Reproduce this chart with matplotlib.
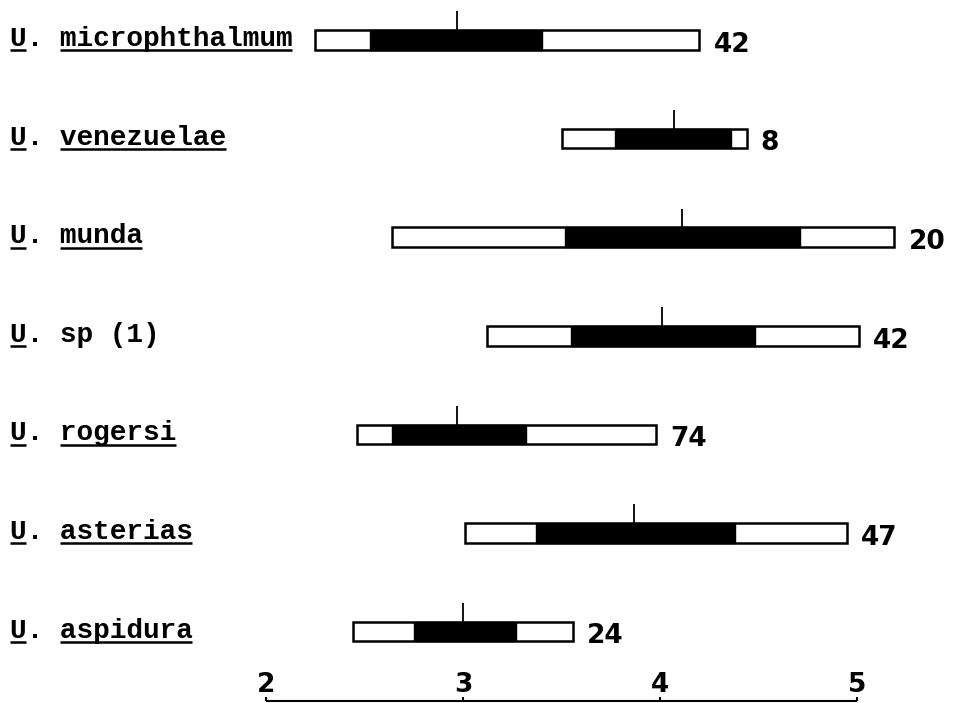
import matplotlib.pyplot as plt

# species rows, top to bottom
species = ["microphthalmum", "venezuelae", "munda", "sp (1)", "rogersi", "asterias", "aspidura"]
underlined = [True, True, True, False, True, True, True]
range_lo = [2.25, 3.50, 2.64, 3.12, 2.46, 3.01, 2.44]
range_hi = [4.20, 4.44, 5.19, 5.01, 3.98, 4.95, 3.56]
sd_lo = [2.53, 3.77, 3.52, 3.55, 2.64, 3.37, 2.75]
sd_hi = [3.40, 4.36, 4.71, 4.48, 3.32, 4.38, 3.27]
means = [2.97, 4.07, 4.11, 4.01, 2.97, 3.87, 3.00]
counts = [42, 8, 20, 42, 74, 47, 24]
axis_ticks = [2, 3, 4, 5]

DPI = 100
fig = plt.figure(figsize=(9.54, 7.03), dpi=DPI)
ax = fig.add_axes([0, 0, 1, 1])
ax.set_xlim(0.65, 5.492)
ax.set_ylim(6.724, -0.406)
ax.axis("off")

rows = list(range(len(species)))
bar_h = 0.20

# outer range (white) and inner band (black)
ax.barh(rows, [h - l for l, h in zip(range_lo, range_hi)], left=range_lo,
        height=bar_h, color="white", edgecolor="black", linewidth=1.8, zorder=2)
ax.barh(rows, [h - l for l, h in zip(sd_lo, sd_hi)], left=sd_lo,
        height=bar_h, color="black", edgecolor="black", linewidth=1.0, zorder=3)
# mean ticks above bars
ax.vlines(means, [r - bar_h / 2 - 0.19 for r in rows], [r - bar_h / 2 for r in rows],
          color="black", linewidth=1.3, zorder=4)

mono = dict(family="Liberation Mono", weight="bold", size=20)
sans = dict(family="DejaVu Sans", weight="bold", size=19)

labels = []
for r, name in zip(rows, species):
    t = ax.text(0.70, r + 0.06, "U. " + name, va="baseline", ha="left", **mono)
    labels.append(t)

for r, hi, n in zip(rows, range_hi, counts):
    ax.text(hi + 0.071, r + 0.12, str(n), va="baseline", ha="left", **sans)

# scale bar at the bottom
ax.hlines(6.704, axis_ticks[0], axis_ticks[-1], color="black", linewidth=1.5)
ax.vlines(axis_ticks, 6.66, 6.704, color="black", linewidth=1.5)
for v in axis_ticks:
    ax.text(v, 6.613, str(v), ha="center", va="baseline", **sans)

# underline the genus initial and species names
fig.canvas.draw()
renderer = fig.canvas.get_renderer()
inv = ax.transData.inverted()
pitch = 0.6001 * mono["size"] * DPI / 72
for r, t, name, ul in zip(rows, labels, species, underlined):
    bb = t.get_window_extent(renderer)
    x0 = bb.x0
    spans = [(0, 1)]
    if ul:
        spans.append((3, 3 + len(name)))
    for a, b in spans:
        xa = inv.transform((x0 + a * pitch, 0))[0]
        xb = inv.transform((x0 + b * pitch - 1, 0))[0]
        ax.hlines(r + 0.105, xa, xb, color="black", linewidth=1.8)

fig.savefig("out.png", dpi=DPI, facecolor="white")
